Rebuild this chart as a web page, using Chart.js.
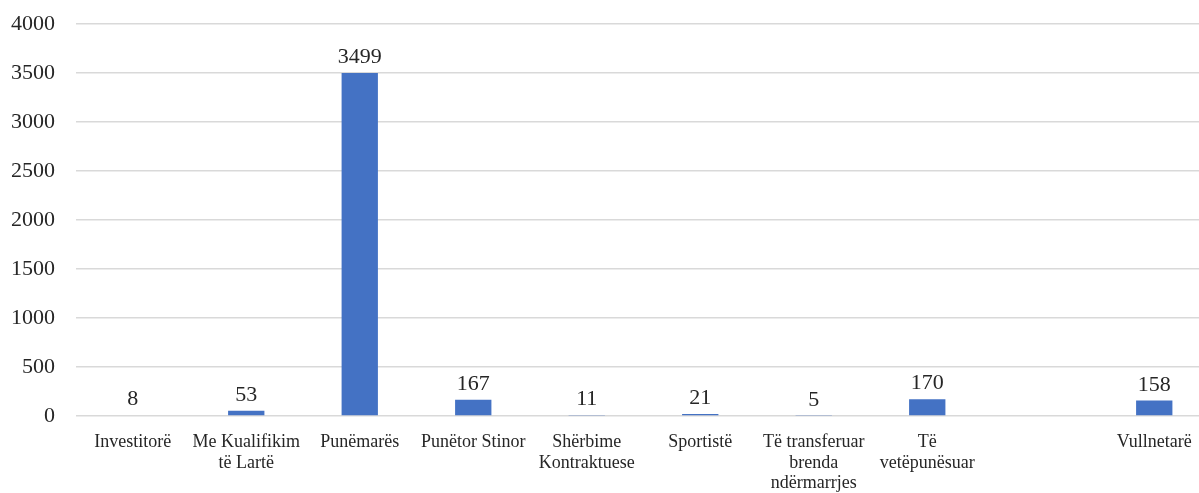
<!DOCTYPE html>
<html>
<head>
<meta charset="utf-8">
<script src="https://cdn.jsdelivr.net/npm/chart.js@4"></script>
<style>
  html, body { margin: 0; padding: 0; background: #fff; overflow: hidden; }
  #wrap { width: 1212px; height: 493px; }
</style>
</head>
<body>
<div id="wrap"><canvas id="chart" width="1212" height="493"></canvas></div>
<script>
const categories = [
  'Investitorë',
  ['Me Kualifikim', 'të Lartë'],
  'Punëmarës',
  'Punëtor Stinor',
  ['Shërbime', 'Kontraktuese'],
  'Sportistë',
  ['Të transferuar', 'brenda', 'ndërmarrjes'],
  ['Të', 'vetëpunësuar'],
  '',
  'Vullnetarë'
];
const values = [8, 53, 3499, 167, 11, 21, 5, 170, null, 158];
const yTicks = [0, 500, 1000, 1500, 2000, 2500, 3000, 3500, 4000];

const serif = '"Liberation Serif", "DejaVu Serif", serif';

// draw value on top of each bar
const barLabels = {
  id: 'barLabels',
  afterDatasetsDraw(chart) {
    const ctx = chart.ctx;
    const meta = chart.getDatasetMeta(0);
    ctx.save();
    ctx.font = '22px ' + serif;
    ctx.fillStyle = '#262626';
    ctx.textAlign = 'center';
    ctx.textBaseline = 'alphabetic';
    meta.data.forEach((bar, i) => {
      if (values[i] == null) return;
      ctx.fillText(String(values[i]), bar.x, bar.y - 10);
    });
    ctx.restore();
  }
};

new Chart(document.getElementById('chart'), {
  type: 'bar',
  data: {
    labels: categories,
    datasets: [{
      data: values,
      backgroundColor: '#4472C4',
      barPercentage: 0.64,
      categoryPercentage: 0.5
    }]
  },
  options: {
    responsive: false,
    animation: false,
    layout: { padding: { top: 24, right: 1, left: 0, bottom: 0 } },
    plugins: { legend: { display: false }, tooltip: { enabled: false } },
    scales: {
      x: {
        grid: { display: false, drawTicks: false },
        border: { display: false },
        ticks: {
          font: { family: serif, size: 18, lineHeight: 1.15 },
          color: '#262626',
          padding: 16,
          maxRotation: 0,
          autoSkip: false
        },
        afterFit(s) { s.height = 77; s.paddingLeft = 0; s.paddingRight = 0; }
      },
      y: {
        min: 0,
        max: 4000,
        afterBuildTicks(s) { s.ticks = yTicks.map(v => ({ value: v })); },
        grid: { color: '#d9d9d9', lineWidth: 1.5, drawTicks: false },
        border: { display: false },
        ticks: {
          font: { family: serif, size: 22 },
          color: '#262626',
          padding: 21,
          callback: v => String(v)
        },
        afterFit(s) { s.width = 76; s.paddingTop = 0; s.paddingBottom = 0; }
      }
    }
  },
  plugins: [barLabels]
});
</script>
</body>
</html>
